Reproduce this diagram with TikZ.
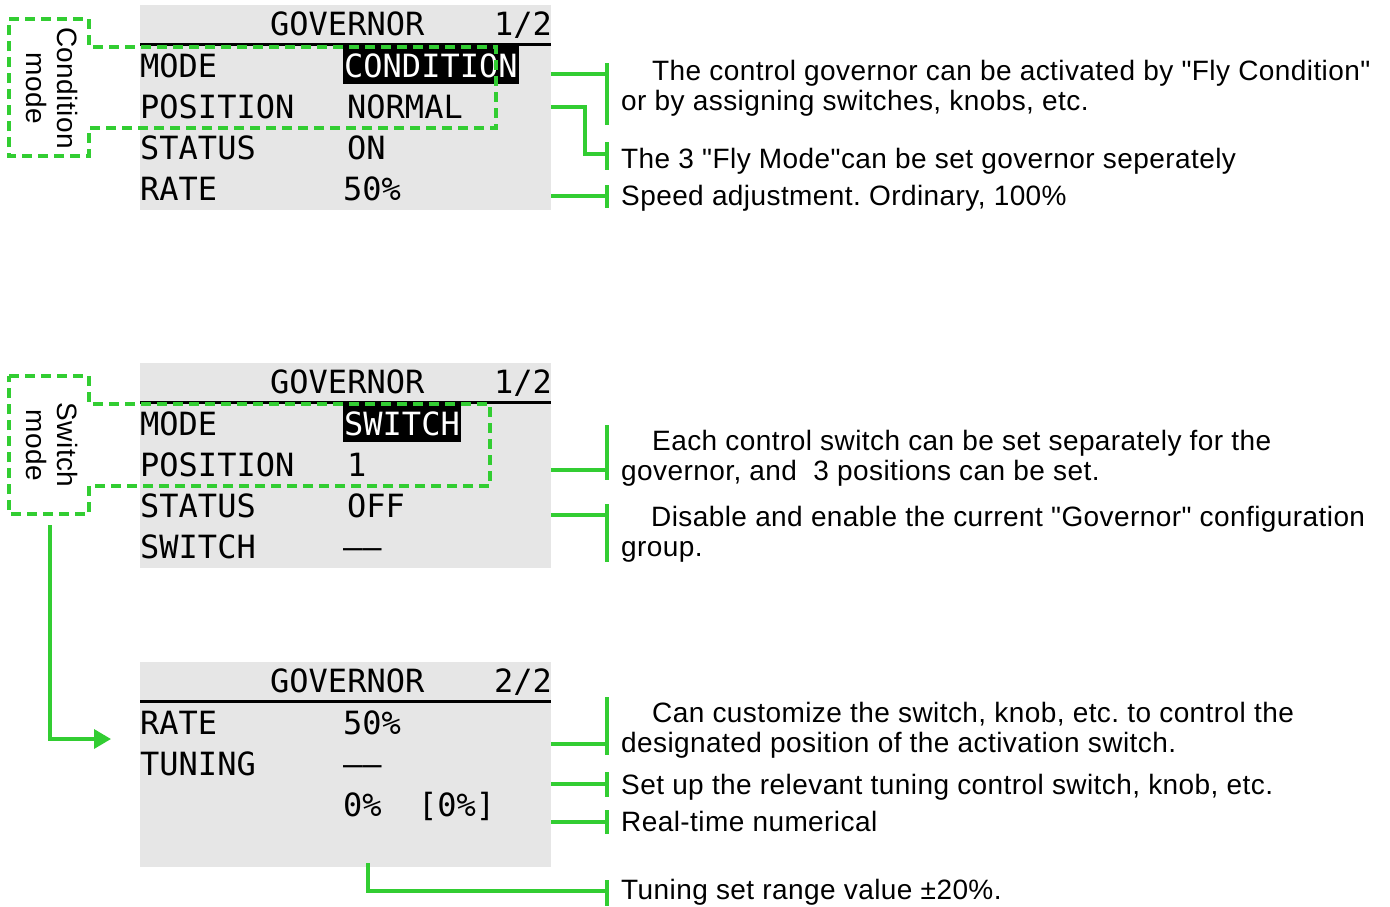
\documentclass[tikz,border=0pt]{standalone}
\usepackage{fontspec}
\setmainfont{Liberation Sans}[LetterSpace=1.5, Ligatures=TeXOff]
\newfontfamily\lcdfont{DejaVu Sans Mono}[Ligatures=NoCommon]
\usepackage{tikz}
\usetikzlibrary{positioning, arrows.meta}

\definecolor{lcdgray}{RGB}{230,230,230}
\definecolor{markgreen}{RGB}{50,205,50}
\frenchspacing

\begin{document}
\begin{tikzpicture}[x=1pt, y=-1pt, >={Triangle[length=17pt,width=19pt]}]
    \tikzset{
        panel/.style={rectangle, fill=lcdgray, minimum width=411pt, minimum height=205pt, anchor=north west, inner sep=0pt},
        lcd/.style={font=\lcdfont\fontsize{32}{32}\selectfont, inner sep=0pt, anchor=base west},
        sel/.style={lcd, fill=black, text=white, inner xsep=1pt, inner ysep=7pt},
        note/.style={font=\fontsize{28}{30}\selectfont, inner sep=0pt, anchor=base west, align=left},
        tag/.style={font=\fontsize{28}{31}\selectfont, inner sep=0pt, align=center, rotate=-90},
        lead/.style={draw=markgreen, line width=3.5pt},
        zone/.style={draw=markgreen, line width=3.2pt, dash pattern=on 10pt off 6pt}
    }
    \useasboundingbox (0,0) rectangle (1390,906);

    % condition mode screen
    \node (govA) [panel] at (140,5) {};
    \draw [line width=3.5pt] (govA.west |- 0,44.5) -- (govA.east |- 0,44.5);
    \node (titleA) [lcd] at (270,35) {GOVERNOR};
    \node (pageA) [lcd, anchor=base east] at (552,35) {1/2};
    \node (modeA) [lcd] at (140,77) {MODE};
    \node (modeAv) [sel] at (343,77) {CONDITION};
    \node (posA) [lcd] at (140,118) {POSITION};
    \node (posAv) [lcd] at (347,118) {NORMAL};
    \node (statA) [lcd] at (140,159) {STATUS};
    \node (statAv) [lcd] at (347,159) {ON};
    \node (rateA) [lcd] at (140,200) {RATE};
    \node (rateAv) [lcd] at (343,200) {50\%};

    \draw [zone] (9,19) -- (89,19) -- (89,47) -- (496,47) -- (496,128) -- (89,128) -- (89,156) -- (9,156) -- cycle;
    \node (condTag) [tag] at (52,88) {Condition\\mode};

    \node (noteA1) [note] at (621,110) {\hspace*{31pt}The control governor can be activated by "Fly Condition"\\or by assigning switches, knobs, etc.};
    \node (noteA2) [note] at (621,168) {The 3 "Fly Mode"can be set governor seperately};
    \node (noteA3) [note] at (621,205) {Speed adjustment. Ordinary, 100\%};

    \coordinate (teeA1) at (607,74);
    \coordinate (teeA2) at (607,154);
    \coordinate (teeA3) at (607,196);
    \draw [lead] (govA.east |- teeA1) -- (teeA1);
    \draw [lead] (govA.east |- 0,107) -- (585,107) |- (teeA2);
    \draw [lead] (govA.east |- teeA3) -- (teeA3);
    \draw [lead] (607,63) -- (607,125);
    \draw [lead] (607,142) -- (607,170);
    \draw [lead] (607,185) -- (607,208);

    % switch mode screen
    \node (govB) [panel] at (140,363) {};
    \draw [line width=3.5pt] (govB.west |- 0,402.5) -- (govB.east |- 0,402.5);
    \node (titleB) [lcd] at (270,393) {GOVERNOR};
    \node (pageB) [lcd, anchor=base east] at (552,393) {1/2};
    \node (modeB) [lcd] at (140,435) {MODE};
    \node (modeBv) [sel] at (343,435) {SWITCH};
    \node (posB) [lcd] at (140,476) {POSITION};
    \node (posBv) [lcd] at (347,476) {1};
    \node (statB) [lcd] at (140,517) {STATUS};
    \node (statBv) [lcd] at (347,517) {OFF};
    \node (swB) [lcd] at (140,558) {SWITCH};
    \node (swBv) [lcd] at (343,558) {\char"2013\char"2013};

    \draw [zone] (9,376) -- (89,376) -- (89,404) -- (490,404) -- (490,486) -- (89,486) -- (89,514) -- (9,514) -- cycle;
    \node (swTag) [tag] at (52,445) {Switch\\mode};

    \node (noteB1) [note] at (621,480) {\hspace*{31pt}Each control switch can be set separately for the\\governor, and \ 3 positions can be set.};
    \node (noteB2) [note] at (621,556) {\hspace*{30pt}Disable and enable the current "Governor" configuration\\group.};

    \coordinate (teeB1) at (607,470);
    \coordinate (teeB2) at (607,515);
    \draw [lead] (govB.east |- teeB1) -- (teeB1);
    \draw [lead] (govB.east |- teeB2) -- (teeB2);
    \draw [lead] (607,425) -- (607,480);
    \draw [lead] (607,504) -- (607,562);

    % page two
    \node (govC) [panel] at (140,662) {};
    \draw [line width=3.5pt] (govC.west |- 0,701.5) -- (govC.east |- 0,701.5);
    \node (titleC) [lcd] at (270,692) {GOVERNOR};
    \node (pageC) [lcd, anchor=base east] at (552,692) {2/2};
    \node (rateC) [lcd] at (140,734) {RATE};
    \node (rateCv) [lcd] at (343,734) {50\%};
    \node (tuneC) [lcd] at (140,775) {TUNING};
    \node (tuneCv) [lcd] at (343,775) {\char"2013\char"2013};
    \node (liveC) [lcd] at (343,816) {0\%};
    \node (rangeC) [lcd] at (418,816) {[0\%]};

    \coordinate (swFoot) at (50,525);
    \coordinate (pageTwo) at (111,739);
    \draw [lead, ->] (swFoot) |- (pageTwo);

    \node (noteC1) [note] at (621,752) {\hspace*{31pt}Can customize the switch, knob, etc. to control the\\designated position of the activation switch.};
    \node (noteC2) [note] at (621,794) {Set up the relevant tuning control switch, knob, etc.};
    \node (noteC3) [note] at (621,831) {Real-time numerical};
    \node (noteC4) [note] at (621,899) {Tuning set range value \char"00B1 20\%.};

    \coordinate (teeC1) at (607,744);
    \coordinate (teeC2) at (607,784);
    \coordinate (teeC3) at (607,822);
    \coordinate (teeC4) at (607,891);
    \draw [lead] (govC.east |- teeC1) -- (teeC1);
    \draw [lead] (govC.east |- teeC2) -- (teeC2);
    \draw [lead] (govC.east |- teeC3) -- (teeC3);
    \draw [lead] (368,863) |- (teeC4);
    \draw [lead] (607,697) -- (607,755);
    \draw [lead] (607,772) -- (607,797);
    \draw [lead] (607,810) -- (607,834);
    \draw [lead] (607,880) -- (607,906);
\end{tikzpicture}
\end{document}
